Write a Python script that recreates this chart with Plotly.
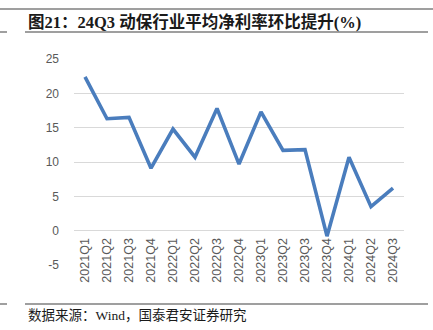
import plotly.graph_objects as go

quarters = ["2021Q1", "2021Q2", "2021Q3", "2021Q4", "2022Q1", "2022Q2", "2022Q3", "2022Q4",
            "2023Q1", "2023Q2", "2023Q3", "2023Q4", "2024Q1", "2024Q2", "2024Q3"]
net_margin = [22.4, 16.3, 16.5, 9.1, 14.8, 10.7, 17.8, 9.7, 17.3, 11.7, 11.8, -0.8, 10.7, 3.5, 6.2]
y_ticks = [-5, 0, 5, 10, 15, 20, 25]
y_tick_labels = ["-5", "0", "5", "10", "15", "20", "25"]

title_text = "图21：24Q3 动保行业平均净利率环比提升(%)"
source_text = "数据来源：Wind，国泰君安证券研究"

W, H = 433, 330
L, R, T, B = 74, 29, 59, 65

fig = go.Figure()
fig.add_trace(go.Scatter(
    x=quarters, y=net_margin, mode="lines",
    line=dict(color="#4a7dbd", width=3.6),
    hoverinfo="x+y",
))

ymin, ymax = -5, 25
fig.update_layout(
    width=W, height=H,
    margin=dict(l=L, r=R, t=T, b=B),
    paper_bgcolor="white", plot_bgcolor="white",
    showlegend=False,
    xaxis=dict(
        type="category", range=[-0.5, len(quarters) - 0.5],
        anchor="free", position=(0 - ymin) / (ymax - ymin),
        tickangle=-90, showgrid=False, zeroline=False, showline=False,
        ticks="", tickfont=dict(family="Liberation Sans, Arial", size=12.5, color="#595959"),
        ticklabelstandoff=4,
    ),
    yaxis=dict(
        range=[ymin, ymax], tickvals=y_ticks, ticktext=y_tick_labels, showgrid=True,
        gridcolor="#d9d9d9", gridwidth=1, zeroline=False, showline=False,
        ticks="", tickfont=dict(family="Liberation Sans, Arial", size=12, color="#595959"),
        ticklabelstandoff=14,
    ),
)

def px_x(px):
    return (px - L) / (W - L - R)

def px_y(py):
    return (H - B - py) / (H - T - B)

rule = dict(color="#7f7f7f", width=1.5)
# page decorations: rules above/below the title and above the source line
shapes = [
    dict(type="line", xref="paper", yref="paper", x0=px_x(0), x1=px_x(W), y0=px_y(9), y1=px_y(9), line=rule),
    dict(type="line", xref="paper", yref="paper", x0=px_x(25), x1=px_x(428), y0=px_y(32), y1=px_y(32), line=rule),
    dict(type="line", xref="paper", yref="paper", x0=px_x(0), x1=px_x(7), y0=px_y(32), y1=px_y(32), line=rule),
    dict(type="line", xref="paper", yref="paper", x0=px_x(25), x1=px_x(428), y0=px_y(304), y1=px_y(304), line=rule),
    dict(type="line", xref="paper", yref="paper", x0=px_x(0), x1=px_x(7), y0=px_y(304), y1=px_y(304), line=rule),
]
fig.update_layout(shapes=shapes)

fig.add_annotation(
    text="<b>" + title_text + "</b>", xref="paper", yref="paper",
    x=px_x(26), y=px_y(22), xanchor="left", yanchor="middle", showarrow=False,
    font=dict(family="Liberation Serif, Noto Sans CJK SC", size=16.5, color="#1a1a1a"),
)
fig.add_annotation(
    text=source_text, xref="paper", yref="paper",
    x=px_x(26), y=px_y(315), xanchor="left", yanchor="middle", showarrow=False,
    font=dict(family="Liberation Serif, Noto Sans CJK SC", size=13.5, color="#1a1a1a"),
)
fig.add_annotation(
    text="行业更新", xref="paper", yref="paper",
    x=px_x(426), y=px_y(4), xanchor="right", yanchor="bottom", showarrow=False,
    font=dict(family="Noto Sans CJK SC", size=15, color="#2f6db5"),
)

fig.write_html("out.html")
